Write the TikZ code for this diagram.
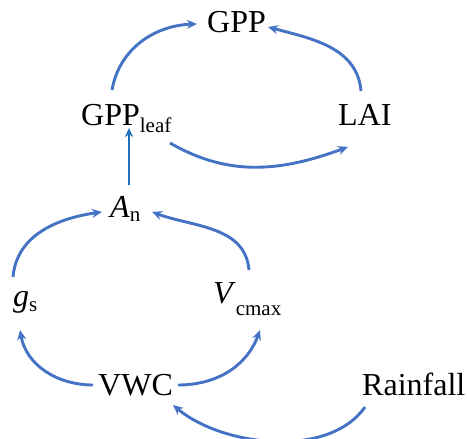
\documentclass[tikz,border=0pt]{standalone}
\usepackage{fontspec}
\setmainfont{Liberation Serif}
\usetikzlibrary{arrows.meta,calc}
\definecolor{arrblue}{HTML}{4472C4}
\definecolor{vblue}{HTML}{1F70C0}
\newcommand{\subt}[2]{\raisebox{-#1}{\fontsize{21}{21}\selectfont #2}}
\tikzset{
  lab/.style={anchor=base west, inner sep=0pt, font=\fontsize{32}{32}\selectfont},
  link/.style={draw=arrblue, line width=2.9pt, -{Stealth[length=10pt,width=9pt]}},
  vlink/.style={draw=vblue, line width=2.6pt, -{Stealth[length=9pt,width=8pt]}}
}
\begin{document}
\begin{tikzpicture}[x=1pt,y=-1pt]
\useasboundingbox[fill=white] (0,0) rectangle (467,439);
\node[lab] (gpp) at (207,33) {GPP};
\node[lab] (gpl) at (81,125) {GPP\subt{7pt}{leaf}};
\node[lab] (lai) at (338,125) {LAI};
\node[lab] (an) at (110,217) {\textit{A}\subt{4pt}{n}};
\node[lab] (gs) at (13,306) {\textit{g}\subt{5pt}{s}};
\node[lab] (vc) at (213,303) {\textit{V}\subt{12pt}{cmax}};
\node[lab] (vwc) at (98,395) {VWC};
\node[lab] (rain) at (362,395) {Rainfall};
% connectors
\draw[link] ($(gpl.base west)+(31,-35)$) to[out=80,in=182] ($(gpp.base west)+(-10,-9)$);
\draw[link] ($(lai.base west)+(23,-34)$) to[out=95,in=-15] ($(gpp.base west)+(61,-6)$);
\draw[link] ($(gpl.base west)+(89,18)$) to[out=-30,in=200] ($(lai.base west)+(10,22)$);
\draw[vlink] ($(an.base west)+(19,-32)$) -- ($(gpl.base west)+(48,3)$);
\draw[link] ($(gs.base west)+(0,-29)$) to[out=85,in=188] ($(an.base west)+(-8,-5)$);
\draw[link] ($(vc.base west)+(36,-33)$) to[out=95,in=-20] ($(an.base west)+(42,-5)$);
\draw[link] ($(vwc.base west)+(-5,-10)$) to[out=180,in=-80] ($(gs.base west)+(7,24)$);
\draw[link] ($(vwc.base west)+(80,-10)$) to[out=0,in=-110] ($(vc.base west)+(47,27)$);
\draw[link] ($(rain.base west)+(3,12)$) to[out=-125,in=-40,looseness=0.85] ($(vwc.base west)+(75,10)$);
\end{tikzpicture}
\end{document}
